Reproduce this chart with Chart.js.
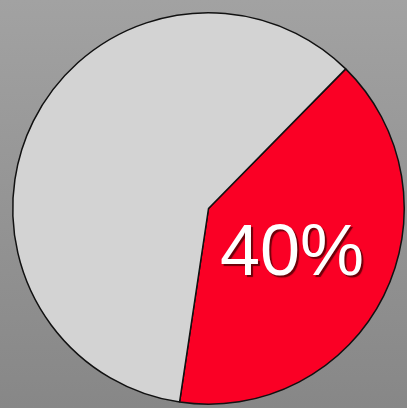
<!DOCTYPE html>
<html>
<head>
<meta charset="utf-8">
<script src="https://cdn.jsdelivr.net/npm/chart.js@4"></script>
<style>
html,body{margin:0;padding:0;background:#999;}
#wrap{width:407px;height:408px;position:relative;}
</style>
</head>
<body>
<div id="wrap"><canvas id="c" width="407" height="408"></canvas></div>
<script>
const categories = ["Share", "Other"];
const values = [40, 60];
const sliceColors = ["#fa0025", "#d3d3d3"];
const labelText = ["40%", ""];

const bgPlugin = {
  id: "bg",
  beforeDraw(chart) {
    const ctx = chart.ctx;
    const g = ctx.createLinearGradient(0, 0, 0, chart.height);
    g.addColorStop(0, "#a2a2a2");
    g.addColorStop(1, "#878787");
    ctx.save();
    ctx.fillStyle = g;
    ctx.fillRect(0, 0, chart.width, chart.height);
    ctx.restore();
  }
};

const labelPlugin = {
  id: "lbl",
  afterDatasetsDraw(chart) {
    const ctx = chart.ctx;
    const meta = chart.getDatasetMeta(0);
    meta.data.forEach((arc, i) => {
      const t = labelText[i];
      if (!t) return;
      const p = arc.tooltipPosition();
      ctx.save();
      ctx.font = "72px 'Liberation Sans', Arial, sans-serif";
      ctx.textAlign = "center";
      ctx.textBaseline = "middle";
      ctx.shadowColor = "rgba(60,0,0,0.75)";
      ctx.shadowOffsetX = 2;
      ctx.shadowOffsetY = 2;
      ctx.shadowBlur = 1;
      ctx.fillStyle = "#ffffff";
      ctx.fillText(t, p.x - 4, p.y + 3);
      ctx.restore();
    });
  }
};

new Chart(document.getElementById("c"), {
  type: "pie",
  data: {
    labels: categories,
    datasets: [{
      data: values,
      backgroundColor: sliceColors,
      borderColor: "#111111",
      borderWidth: 1.5
    }]
  },
  options: {
    responsive: false,
    animation: false,
    rotation: 44.5,
    layout: { padding: { left: 12, top: 12, right: 2, bottom: 3 } },
    plugins: { legend: { display: false }, tooltip: { enabled: false } }
  },
  plugins: [bgPlugin, labelPlugin]
});
</script>
</body>
</html>
